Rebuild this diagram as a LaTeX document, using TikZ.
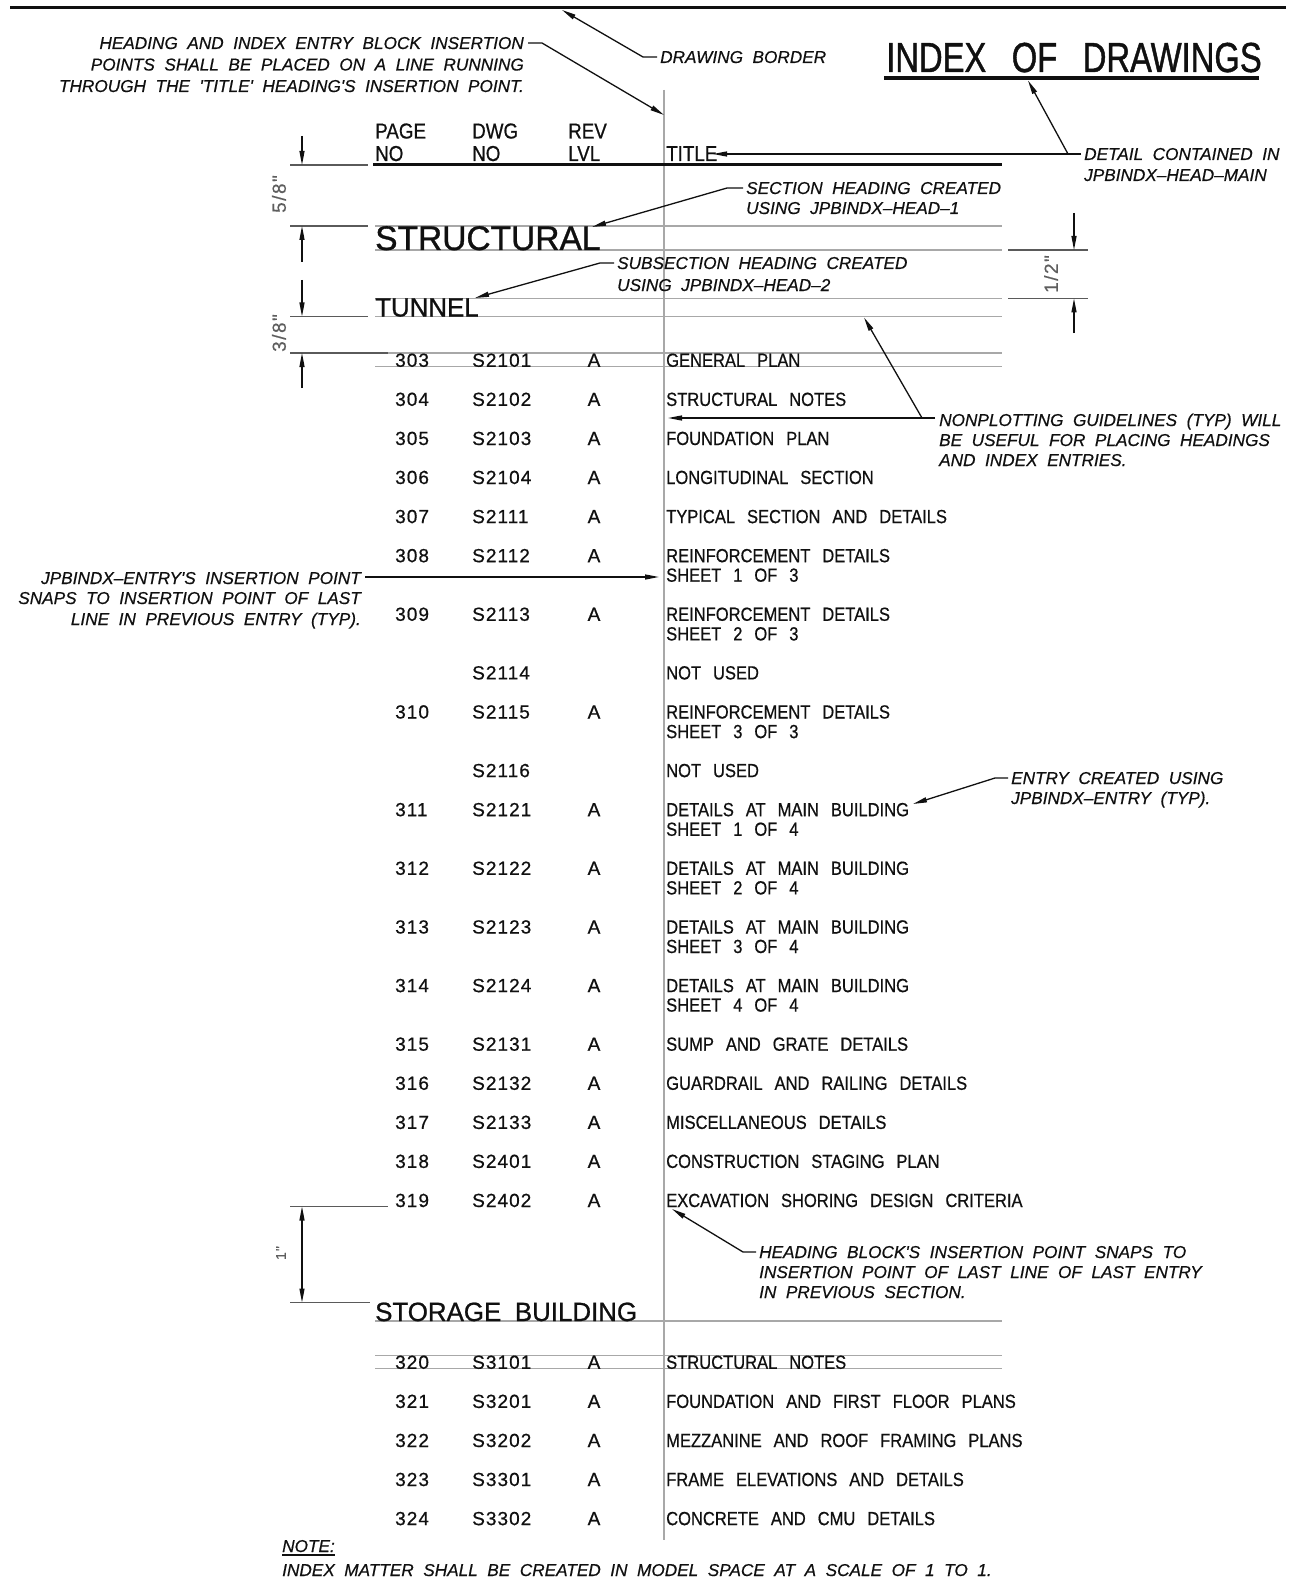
\documentclass[tikz,border=0pt]{standalone}
\usepackage{fontspec}
\setmainfont{Liberation Sans}
\newfontfamily\entfont[FakeStretch=0.87,WordSpace=2.6,FakeBold=0.6]{Liberation Sans}
\newfontfamily\numfont[LetterSpace=5.5,FakeBold=0.6]{Liberation Sans}
\newfontfamily\hdfont[FakeStretch=0.98,WordSpace=1.9,FakeBold=0.9]{Liberation Sans}
\newfontfamily\ttlfont[FakeStretch=0.78,WordSpace=2.8,FakeBold=1.0]{Liberation Sans}
\newfontfamily\annfont[WordSpace=2,Ligatures=TeXOff,FakeBold=0.5]{Liberation Sans}
\newfontfamily\dimfont[LetterSpace=8,FakeBold=0.4]{Liberation Sans}
\usetikzlibrary{arrows.meta}
\definecolor{ink}{HTML}{101010}
\definecolor{gline}{HTML}{A8A8A8}
\definecolor{extc}{HTML}{5A5A5A}
\definecolor{dimtxt}{HTML}{5E5E5E}
\newcommand{\ixrow}[6]{%
  \node[numtxt] (#1p) at (395,#2+6.8) {#3};
  \node[numtxt] (#1d) at (472,#2+6.8) {#4};
  \node[numtxt,anchor=base] (#1r) at (594,#2+6.8) {#5};
  \node[ent] (#1t) at (666,#2+6.8) {#6};}
\newcommand{\ixsub}[3]{%
  \node[ent] (#1) at (666,#2+6.8) {#3};}
\begin{document}
\begin{tikzpicture}[x=1pt,y=-1pt,
  ent/.style={font=\entfont\fontsize{19}{20}\selectfont,inner sep=0pt,anchor=base west,text=ink},
  numtxt/.style={font=\numfont\fontsize{19}{20}\selectfont,inner sep=0pt,anchor=base west,text=ink},
  hdr/.style={font=\entfont\fontsize{21.6}{24}\selectfont,inner sep=0pt,anchor=base west,text=ink},
  ann/.style={font=\annfont\itshape\fontsize{17.2}{20}\selectfont,inner sep=0pt,text=ink},
  heading/.style={inner sep=0pt,anchor=base west,text=ink},
  guideln/.style={draw=gline,line width=1.2pt},
  extln/.style={draw=extc,line width=1.1pt},
  dimln/.style={draw=ink,line width=1.2pt},
  leader/.style={draw=ink,line width=1.3pt},
  leadtip/.style={-{Triangle[length=14pt,width=5pt]}},
  dimlbl/.style={font=\dimfont\fontsize{19}{20}\selectfont,text=dimtxt,inner sep=0pt,rotate=90}]
\fill[white] (0,0) rectangle (1296,1578);
\useasboundingbox (0,0) rectangle (1296,1578);

% drawing border
\coordinate (bL) at (10,8); \coordinate (bR) at (1286,8);
\draw[draw=ink,line width=3pt] (bL) -- (bR);

% nonplotting guidelines
\foreach \gy in {226,250,298.5,316.5,353,366.5,1321,1355.5,1368.5}
  \draw[guideln] (375,\gy) -- (1002,\gy);
\coordinate (vT) at (664,90); \coordinate (vB) at (664,1540);
\draw[draw=gline,line width=1.1pt] (vT) -- (vB);

% title
\node[heading,font=\ttlfont\fontsize{42}{44}\selectfont] (ttl) at (886,72) {INDEX OF DRAWINGS};
\coordinate (ulL) at (884,78); \coordinate (ulR) at (1259,78);
\draw[draw=ink,line width=4pt] (ulL) -- (ulR);

% header
\node[hdr] (hPage) at (375,138.5) {PAGE};
\node[hdr] (hPno) at (375,161) {NO};
\node[hdr] (hDwg) at (472,138.5) {DWG};
\node[hdr] (hDno) at (472,161) {NO};
\node[hdr] (hRev) at (568,138.5) {REV};
\node[hdr] (hLvl) at (568,161) {LVL};
\node[hdr] (hTitle) at (666,161) {TITLE};
\coordinate (huL) at (373,165); \coordinate (huR) at (1002,165);
\draw[draw=ink,line width=3pt] (huL) -- (huR);

% headings
\node[heading,font=\hdfont\fontsize{34.2}{36}\selectfont] (hStruct) at (375,250) {STRUCTURAL};
\node[heading,font=\hdfont\fontsize{26.4}{28}\selectfont] (hTunnel) at (375,316.5) {TUNNEL};
\node[heading,font=\hdfont\fontsize{26.4}{28}\selectfont] (hStorage) at (375,1321) {STORAGE BUILDING};

% entries
\ixrow{r303}{360}{303}{S2101}{A}{GENERAL PLAN}
\ixrow{r304}{399.1}{304}{S2102}{A}{STRUCTURAL NOTES}
\ixrow{r305}{438.2}{305}{S2103}{A}{FOUNDATION PLAN}
\ixrow{r306}{477.2}{306}{S2104}{A}{LONGITUDINAL SECTION}
\ixrow{r307}{516.3}{307}{S2111}{A}{TYPICAL SECTION AND DETAILS}
\ixrow{r308}{555.4}{308}{S2112}{A}{REINFORCEMENT DETAILS}
\ixsub{r308s}{574.9}{SHEET 1 OF 3}
\ixrow{r309}{614.0}{309}{S2113}{A}{REINFORCEMENT DETAILS}
\ixsub{r309s}{633.6}{SHEET 2 OF 3}
\node[numtxt] (r2114d) at (472,679.4) {S2114};
\ixsub{r2114t}{672.6}{NOT USED}
\ixrow{r310}{711.7}{310}{S2115}{A}{REINFORCEMENT DETAILS}
\ixsub{r310s}{731.3}{SHEET 3 OF 3}
\node[numtxt] (r2116d) at (472,777.1) {S2116};
\ixsub{r2116t}{770.3}{NOT USED}
\ixrow{r311}{809.4}{311}{S2121}{A}{DETAILS AT MAIN BUILDING}
\ixsub{r311s}{829.0}{SHEET 1 OF 4}
\ixrow{r312}{868.0}{312}{S2122}{A}{DETAILS AT MAIN BUILDING}
\ixsub{r312s}{887.6}{SHEET 2 OF 4}
\ixrow{r313}{926.7}{313}{S2123}{A}{DETAILS AT MAIN BUILDING}
\ixsub{r313s}{946.2}{SHEET 3 OF 4}
\ixrow{r314}{985.3}{314}{S2124}{A}{DETAILS AT MAIN BUILDING}
\ixsub{r314s}{1004.8}{SHEET 4 OF 4}
\ixrow{r315}{1043.9}{315}{S2131}{A}{SUMP AND GRATE DETAILS}
\ixrow{r316}{1083.0}{316}{S2132}{A}{GUARDRAIL AND RAILING DETAILS}
\ixrow{r317}{1122.1}{317}{S2133}{A}{MISCELLANEOUS DETAILS}
\ixrow{r318}{1161.1}{318}{S2401}{A}{CONSTRUCTION STAGING PLAN}
\ixrow{r319}{1200.2}{319}{S2402}{A}{EXCAVATION SHORING DESIGN CRITERIA}
\ixrow{r320}{1362}{320}{S3101}{A}{STRUCTURAL NOTES}
\ixrow{r321}{1401.1}{321}{S3201}{A}{FOUNDATION AND FIRST FLOOR PLANS}
\ixrow{r322}{1440.2}{322}{S3202}{A}{MEZZANINE AND ROOF FRAMING PLANS}
\ixrow{r323}{1479.2}{323}{S3301}{A}{FRAME ELEVATIONS AND DETAILS}
\ixrow{r324}{1518.3}{324}{S3302}{A}{CONCRETE AND CMU DETAILS}

% dimension 5/8"
\draw[extln] (290,165) -- (368,165);
\draw[extln] (290,226) -- (368,226);
\coordinate (d1t) at (302,136); \coordinate (d1a) at (302,165);
\coordinate (d1b) at (302,226); \coordinate (d1e) at (302,262);
\draw[dimln,leadtip] (d1t) -- (d1a);
\draw[dimln,leadtip] (d1e) -- (d1b);
\node[dimlbl] (l58) at (279,194) {5/8"};
% dimension 3/8"
\draw[extln] (290,316.5) -- (368,316.5);
\draw[extln] (290,353) -- (388,353);
\coordinate (d2t) at (302,280); \coordinate (d2a) at (302,316.5);
\coordinate (d2b) at (302,353); \coordinate (d2e) at (302,388);
\draw[dimln,leadtip] (d2t) -- (d2a);
\draw[dimln,leadtip] (d2e) -- (d2b);
\node[dimlbl] (l38) at (279,333) {3/8"};
% dimension 1/2"
\draw[extln] (1008,250) -- (1088,250);
\draw[extln] (1008,298.5) -- (1088,298.5);
\coordinate (d3t) at (1074,213); \coordinate (d3a) at (1074,250);
\coordinate (d3b) at (1074,298.5); \coordinate (d3e) at (1074,333);
\draw[dimln,leadtip] (d3t) -- (d3a);
\draw[dimln,leadtip] (d3e) -- (d3b);
\node[dimlbl] (l12) at (1051,274) {1/2"};
% dimension 1"
\draw[extln] (290,1206.5) -- (388,1206.5);
\draw[extln] (290,1302.5) -- (370,1302.5);
\coordinate (d4a) at (302,1206.5); \coordinate (d4b) at (302,1302.5);
\draw[dimln,{Triangle[length=14pt,width=5pt]}-{Triangle[length=14pt,width=5pt]}] (d4a) -- (d4b);
\node[dimlbl,font=\dimfont\fontsize{14}{16}\selectfont] (l1) at (281,1253) {1"};

% annotation: drawing border
\node[ann,anchor=base west] (tDB) at (660,63) {DRAWING BORDER};
\coordinate (dbS) at (657,57); \coordinate (dbE) at (643,57); \coordinate (dbT) at (562,10);
\draw[leader,leadtip] (dbS) -- (dbE) -- (dbT);

% annotation: insertion points note
\node[ann,anchor=base east] (n1a) at (524,49) {HEADING AND INDEX ENTRY BLOCK INSERTION};
\node[ann,anchor=base east] (n1b) at (524,70.5) {POINTS SHALL BE PLACED ON A LINE RUNNING};
\node[ann,anchor=base east] (n1c) at (524,92) {THROUGH THE 'TITLE' HEADING'S INSERTION POINT.};
\coordinate (n1S) at (528,43); \coordinate (n1E) at (542,43); \coordinate (n1T) at (664,115);
\draw[leader,leadtip] (n1S) -- (n1E) -- (n1T);

% annotation: detail contained in
\node[ann,anchor=base west] (dca) at (1084,160) {DETAIL CONTAINED IN};
\node[ann,anchor=base west] (dcb) at (1084,181) {JPBINDX–HEAD–MAIN};
\coordinate (dcS) at (1081,154); \coordinate (dcE) at (1068,154);
\coordinate (dcT1) at (713,154); \coordinate (dcT2) at (1028,80.5);
\draw[leader] (dcS) -- (dcE);
\draw[leader,leadtip] (dcE) -- (dcT1);
\draw[leader,leadtip] (dcE) -- (dcT2);

% annotation: section heading
\node[ann,anchor=base west] (sha) at (746,194) {SECTION HEADING CREATED};
\node[ann,anchor=base west] (shb) at (746,214) {USING JPBINDX–HEAD–1};
\coordinate (shS) at (743,188); \coordinate (shE) at (727,188); \coordinate (shT) at (592,227);
\draw[leader,leadtip] (shS) -- (shE) -- (shT);

% annotation: subsection heading
\node[ann,anchor=base west] (ssa) at (617,269) {SUBSECTION HEADING CREATED};
\node[ann,anchor=base west] (ssb) at (617,291) {USING JPBINDX–HEAD–2};
\coordinate (ssS) at (614,263); \coordinate (ssE) at (600,263); \coordinate (ssT) at (475,298);
\draw[leader,leadtip] (ssS) -- (ssE) -- (ssT);

% annotation: nonplotting guidelines
\node[ann,anchor=base west] (npa) at (939,426) {NONPLOTTING GUIDELINES (TYP) WILL};
\node[ann,anchor=base west] (npb) at (939,446) {BE USEFUL FOR PLACING HEADINGS};
\node[ann,anchor=base west] (npc) at (939,466) {AND INDEX ENTRIES.};
\coordinate (npS) at (935,418); \coordinate (npE) at (922,418);
\coordinate (npT1) at (668,418); \coordinate (npT2) at (864,317.5);
\draw[leader,leadtip] (npS) -- (npT1);
\draw[leader,leadtip] (npE) -- (npT2);

% annotation: entry insertion point
\node[ann,anchor=base east] (eia) at (361,584) {JPBINDX–ENTRY'S INSERTION POINT};
\node[ann,anchor=base east] (eib) at (361,604) {SNAPS TO INSERTION POINT OF LAST};
\node[ann,anchor=base east] (eic) at (361,625) {LINE IN PREVIOUS ENTRY (TYP).};
\coordinate (eiS) at (365,577); \coordinate (eiT) at (659,577);
\draw[leader,leadtip] (eiS) -- (eiT);

% annotation: entry created using
\node[ann,anchor=base west] (eca) at (1011,784) {ENTRY CREATED USING};
\node[ann,anchor=base west] (ecb) at (1011,804) {JPBINDX–ENTRY (TYP).};
\coordinate (ecS) at (1008,778); \coordinate (ecE) at (995,778); \coordinate (ecT) at (913,804);
\draw[leader,leadtip] (ecS) -- (ecE) -- (ecT);

% annotation: heading block
\node[ann,anchor=base west] (hba) at (759,1258) {HEADING BLOCK'S INSERTION POINT SNAPS TO};
\node[ann,anchor=base west] (hbb) at (759,1278) {INSERTION POINT OF LAST LINE OF LAST ENTRY};
\node[ann,anchor=base west] (hbc) at (759,1298) {IN PREVIOUS SECTION.};
\coordinate (hbS) at (756,1252); \coordinate (hbE) at (743,1252); \coordinate (hbT) at (672,1209);
\draw[leader,leadtip] (hbS) -- (hbE) -- (hbT);

% note
\node[ann,anchor=base west] (noteH) at (282,1552) {NOTE:};
\draw[draw=ink,line width=1.3pt] (noteH.south west) ++(0,2.5) -- ([yshift=-2.5pt]noteH.south east);
\node[ann,anchor=base west] (noteT) at (282,1576) {INDEX MATTER SHALL BE CREATED IN MODEL SPACE AT A SCALE OF 1 TO 1.};
\end{tikzpicture}
\end{document}
